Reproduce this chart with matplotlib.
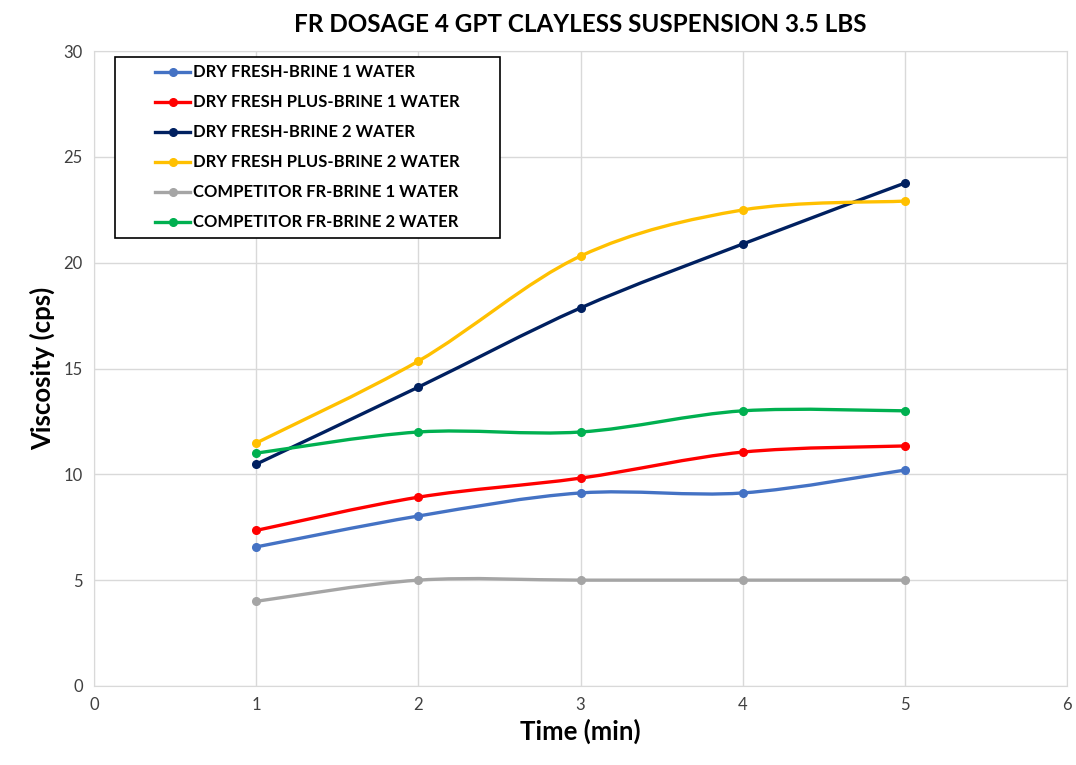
import numpy as np
import matplotlib
matplotlib.use("Agg")
import matplotlib.pyplot as plt
from matplotlib.path import Path
from matplotlib.patches import PathPatch, Rectangle

plt.rcParams['font.family'] = ['Lato', 'DejaVu Sans']

time_min = [1, 2, 3, 4, 5]
dry_fresh_b1 = [6.57, 8.03, 9.12, 9.12, 10.2]
dry_plus_b1 = [7.35, 8.92, 9.82, 11.05, 11.34]
dry_fresh_b2 = [10.48, 14.12, 17.86, 20.88, 23.76]
dry_plus_b2 = [11.48, 15.35, 20.31, 22.49, 22.91]
comp_b1 = [4, 5, 5, 5, 5]
comp_b2 = [11, 12, 12, 13, 13]

series = [
    ("DRY FRESH-BRINE 1 WATER", dry_fresh_b1, "#4472C4"),
    ("DRY FRESH PLUS-BRINE 1 WATER", dry_plus_b1, "#FF0000"),
    ("DRY FRESH-BRINE 2 WATER", dry_fresh_b2, "#002060"),
    ("DRY FRESH PLUS-BRINE 2 WATER", dry_plus_b2, "#FFC000"),
    ("COMPETITOR FR-BRINE 1 WATER", comp_b1, "#A5A5A5"),
    ("COMPETITOR FR-BRINE 2 WATER", comp_b2, "#00B050"),
]


def smooth_path(x, y):
    # excel style smoothed line: cubic bezier through the points
    pts = np.column_stack([x, y]).astype(float)
    n = len(pts)
    verts = [pts[0]]
    codes = [Path.MOVETO]
    for i in range(n - 1):
        p0 = pts[max(i - 1, 0)]
        p1 = pts[i]
        p2 = pts[i + 1]
        p3 = pts[min(i + 2, n - 1)]
        c1 = p1 + (p2 - p0) / 6.0
        c2 = p2 - (p3 - p1) / 6.0
        verts += [c1, c2, p2]
        codes += [Path.CURVE4] * 3
    return Path(verts, codes)


fig = plt.figure(figsize=(10.76, 7.65), dpi=100)
ax = fig.add_axes([0.0874, 0.1033, 0.9042, 0.83])

for label, vals, col in series:
    patch = PathPatch(smooth_path(time_min, vals), facecolor="none",
                      edgecolor=col, lw=2.4, zorder=3, capstyle="round")
    ax.add_patch(patch)
    ax.plot(time_min, vals, linestyle="none", marker="o", ms=5.5,
            color=col, zorder=4)
    ax.plot([], [], color=col, lw=2.4, marker="o", ms=5.5, label=label)

ax.set_xlim(0, 6)
ax.set_ylim(0, 30)
ax.set_xticks(range(0, 7))
ax.set_yticks(range(0, 31, 5))
ax.grid(True, color="#D9D9D9", lw=1)
ax.set_axisbelow(True)
for s in ax.spines.values():
    s.set_color("#D9D9D9")
ax.tick_params(length=0, labelsize=12, colors="#404040", pad=8)

ax.set_title("FR DOSAGE 4 GPT CLAYLESS SUSPENSION 3.5 LBS",
             fontsize=17.5, fontweight="bold", pad=14)
ax.set_xlabel("Time (min)", fontsize=18.5, fontweight="bold", labelpad=4)
ax.set_ylabel("Viscosity (cps)", fontsize=18.5, fontweight="bold", labelpad=6)

# legend box drawn separately so the padding matches the excel look
ax.add_patch(Rectangle((0.0216, 0.7055), 0.3955, 0.2851, transform=ax.transAxes,
                       facecolor="white", edgecolor="black", lw=1.2, zorder=5))
leg = ax.legend(loc="upper left", bbox_to_anchor=(0.0627, 0.979),
                prop={"weight": "bold", "size": 12}, frameon=False,
                borderpad=0, labelspacing=0.84, handlelength=2.1,
                handletextpad=0.15, borderaxespad=0)
leg.set_zorder(6)

plt.savefig("out.png", dpi=100)
